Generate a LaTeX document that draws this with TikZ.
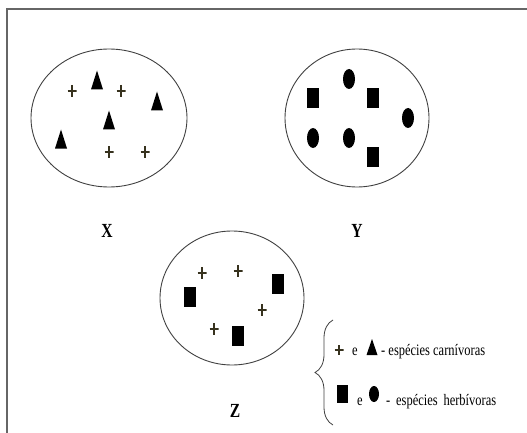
\documentclass[tikz,border=0pt]{standalone}
\usepackage{fontspec}
\usetikzlibrary{shapes.geometric,decorations.pathreplacing}
\newfontfamily\narrowserif[FakeStretch=0.78]{Liberation Serif}
\definecolor{plusink}{RGB}{55,50,30}

\begin{document}
\begin{tikzpicture}
        [x=1pt,y=-1pt,
        ring/.style={ellipse,draw=black!75,line width=.9pt,inner sep=0pt},
        plusmark/.style={minimum width=9pt,minimum height=12pt,inner sep=0pt,
            path picture={\draw[plusink,line width=1.2pt]
                (path picture bounding box.north) -- (path picture bounding box.south)
                (path picture bounding box.west) -- (path picture bounding box.east);}},
        trimark/.style={minimum width=12pt,minimum height=19pt,inner sep=0pt,
            path picture={\fill (path picture bounding box.south west)
                -- (path picture bounding box.south east)
                -- (path picture bounding box.north) -- cycle;}},
        boxmark/.style={rectangle,fill,minimum width=12pt,minimum height=20pt,inner sep=0pt},
        dotmark/.style={ellipse,fill,minimum width=12pt,minimum height=20pt,inner sep=0pt},
        setname/.style={font=\narrowserif\bfseries\fontsize{20}{20}\selectfont,inner sep=0pt},
        legtext/.style={font=\narrowserif\fontsize{16}{16}\selectfont,inner sep=0pt}]
        \useasboundingbox (0,0) rectangle (527,433);
        \draw[black!60,line width=1.4pt] (7,433) -- (7,9) -- (527,9);

        \node[ring,minimum width=156pt,minimum height=138pt] (x) at (109,118) {};
        \node[ring,minimum width=144pt,minimum height=138pt] (y) at (357,118) {};
        \node[ring,minimum width=144pt,minimum height=134pt] (z) at (232,298) {};

        \node[setname] (xlab) at (107,231) {X};
        \node[setname] (ylab) at (357,231) {Y};
        \node[setname] (zlab) at (235,411) {Z};

        \node[plusmark] (x1) at (72,91) {};
        \node[trimark] (x2) at (97,80) {};
        \node[plusmark] (x3) at (121,91) {};
        \node[trimark] (x4) at (157,101) {};
        \node[trimark] (x5) at (109,120) {};
        \node[trimark] (x6) at (61,139) {};
        \node[plusmark] (x7) at (109,152) {};
        \node[plusmark] (x8) at (145,152) {};

        \node[dotmark] (y1) at (349,79) {};
        \node[boxmark] (y2) at (313,98) {};
        \node[boxmark] (y3) at (373,98) {};
        \node[dotmark] (y4) at (408,118) {};
        \node[dotmark] (y5) at (313,138) {};
        \node[dotmark] (y6) at (349,138) {};
        \node[boxmark] (y7) at (373,157) {};

        \node[plusmark] (z1) at (202,273) {};
        \node[plusmark] (z2) at (238,271) {};
        \node[boxmark] (z3) at (278,284) {};
        \node[boxmark] (z4) at (190,297) {};
        \node[plusmark] (z5) at (262,310) {};
        \node[plusmark] (z6) at (214,329) {};
        \node[boxmark] (z7) at (238,336) {};

        \coordinate (btop) at (333,320);
        \coordinate (bbot) at (333,425);
        \draw[black!75,line width=.8pt,decorate,decoration={brace,amplitude=18pt}] (bbot) -- (btop);

        \node[plusmark,minimum height=10pt] (lplus) at (339,350) {};
        \node[legtext,anchor=base] (le1) at (355,355) {e};
        \node[trimark,minimum width=11pt,minimum height=16pt] (ltri) at (372,347) {};
        \node[legtext,anchor=base west] (carn) at (381,355) {- espécies carnívoras};

        \node[boxmark,minimum width=11pt,minimum height=18pt] (lbox) at (342,394) {};
        \node[legtext,anchor=base] (le2) at (360,405) {e};
        \node[dotmark,minimum width=10pt,minimum height=16pt] (ldot) at (374,394) {};
        \node[legtext,anchor=base west] (herb) at (386,405) {-\, espécies\, herbívoras};
    \end{tikzpicture}
\end{document}
